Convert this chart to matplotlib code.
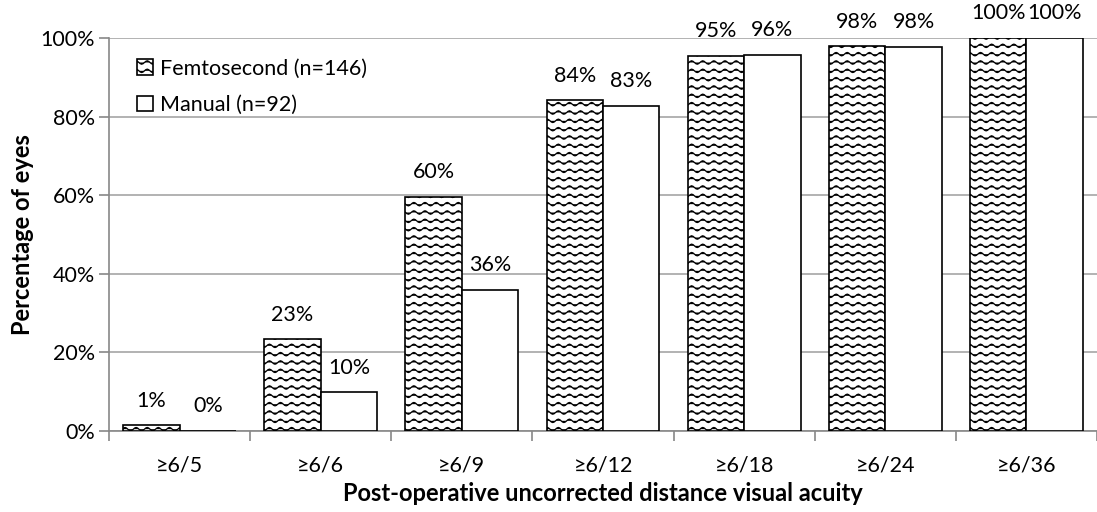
import numpy as np, matplotlib
matplotlib.use("Agg"); import matplotlib.pyplot as plt
from matplotlib import hatch as mhatch
from matplotlib.path import Path

categories = ["≥6/5", "≥6/6", "≥6/9", "≥6/12", "≥6/18", "≥6/24", "≥6/36"]
femto = [1.4, 23.3, 59.6, 84.2, 95.4, 97.9, 100.0]
manual = [0.0, 9.8, 35.9, 82.8, 95.8, 97.8, 100.0]
series_names = ["Femtosecond (n=146)", "Manual (n=92)"]


# wavy hatch: replaces the plain horizontal '-' hatch with sine lines
class WaveHatch(mhatch.HatchPatternBase):
    def __init__(self, hatch, density):
        self.num_lines = int((hatch.count('-') + hatch.count('+')) * density)
        self.npts = 73
        self.num_vertices = self.num_lines * self.npts

    def set_vertices_and_codes(self, vertices, codes):
        steps, stepsize = np.linspace(0.0, 1.0, self.num_lines, False, retstep=True)
        steps += stepsize / 2.
        x = np.linspace(0.0, 1.0, self.npts)
        wave = 0.017 * np.sin(2 * np.pi * 9 * x)
        for i, s in enumerate(steps):
            sl = slice(i * self.npts, (i + 1) * self.npts)
            vertices[sl, 0] = x
            vertices[sl, 1] = s + wave
            codes[sl] = Path.LINETO
            codes[i * self.npts] = Path.MOVETO

mhatch._hatch_types = [WaveHatch if h is mhatch.HorizontalHatch else h
                       for h in mhatch._hatch_types]

plt.rcParams['font.family'] = ['Lato', 'DejaVu Sans']
plt.rcParams['hatch.linewidth'] = 0.9
plt.rcParams['hatch.color'] = '#333333'
FS = 15.5
FSB = 17

fig = plt.figure(figsize=(10.97, 5.12), dpi=100)
ax = fig.add_axes([109 / 1097, 1 - 431 / 512, 988 / 1097, 393 / 512])

x = np.arange(len(categories))
w = 0.4
b1 = ax.bar(x - w / 2, femto, w, color='white', edgecolor='black', lw=1.2,
            hatch='--', label=series_names[0], zorder=3)
b2 = ax.bar(x + w / 2, manual, w, color='white', edgecolor='black', lw=1.2,
            label=series_names[1], zorder=3)
for bars in (b1, b2):
    ax.bar_label(bars, fmt='{:.0f}%', padding=10.5, fontsize=FS)

ax.set_xlim(-0.5, len(categories) - 0.5)
ax.set_ylim(0, 100)
ax.set_yticks(np.arange(0, 101, 20))
ax.set_yticklabels([f"{v}%" for v in range(0, 101, 20)], fontsize=FS)
ax.yaxis.grid(True, color='#a6a6a6', lw=1.2, zorder=0)
ax.set_axisbelow(True)

# ticks at category boundaries, labels at centres
ax.set_xticks(np.arange(-0.5, len(categories), 1.0))
ax.set_xticklabels([])
ax.set_xticks(x, minor=True)
ax.set_xticklabels(categories, minor=True, fontsize=FS)
ax.tick_params(axis='x', which='minor', length=0, pad=18)
ax.tick_params(axis='x', which='major', length=7, color='#888888', width=1.2)
ax.tick_params(axis='y', length=7, color='#888888', width=1.2, pad=3)

for s in ('top', 'right'):
    ax.spines[s].set_visible(False)
for s in ('left', 'bottom'):
    ax.spines[s].set_color('#888888')
    ax.spines[s].set_linewidth(1.2)

ax.set_xlabel("Post-operative uncorrected distance visual acuity",
              fontsize=FSB, fontweight='bold', labelpad=4)
ax.set_ylabel("Percentage of eyes", fontsize=FSB, fontweight='bold', labelpad=5)

ax.legend(loc='upper left', bbox_to_anchor=(0.028, 0.947), frameon=False,
          fontsize=FS, handlelength=0.75, handleheight=0.75, handletextpad=0.35,
          labelspacing=0.75, borderpad=0, borderaxespad=0)

fig.savefig("out.png", dpi=100)
